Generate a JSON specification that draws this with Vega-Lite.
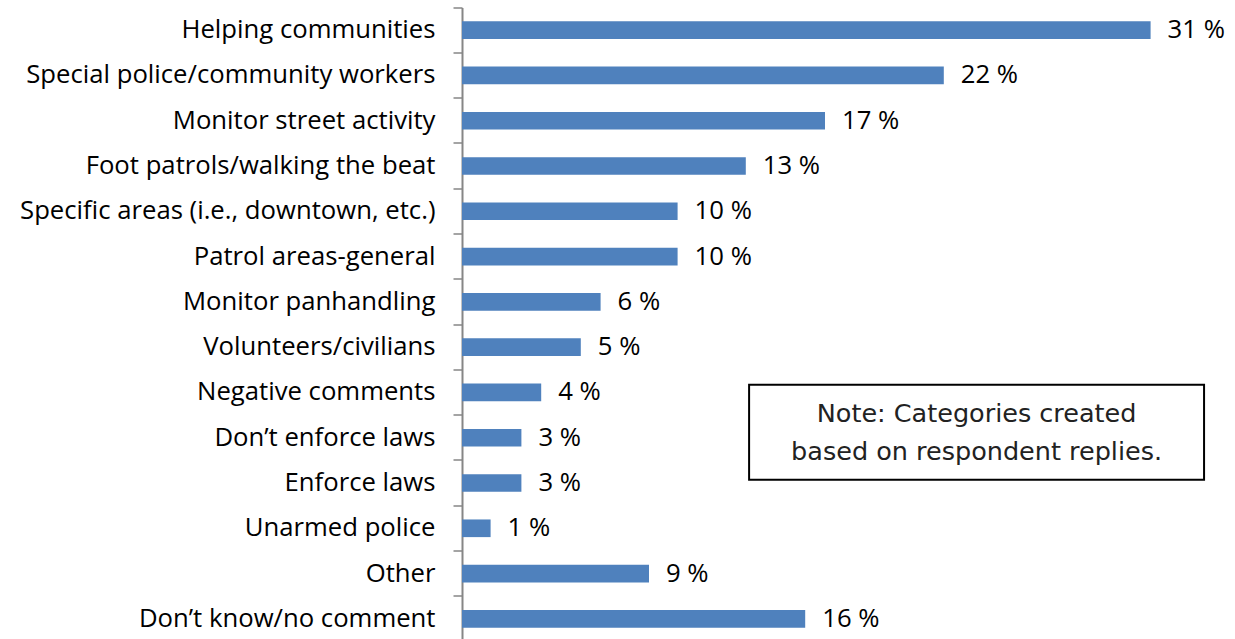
{
  "$schema": "https://vega.github.io/schema/vega-lite/v6.json",
  "width": 770,
  "height": 634,
  "autosize": {"type": "none"},
  "padding": {"left": 462, "top": 7.5, "right": 0, "bottom": 0},
  "background": "white",
  "config": {"view": {"stroke": null}},
  "resolve": {"scale": {"y": "independent"}, "axis": {"y": "independent"}},
  "layer": [
    {
      "data": {
        "values": [
          {"category": "Helping communities", "value": 31.3, "label": "31 %"},
          {"category": "Special police/community workers", "value": 21.9, "label": "22 %"},
          {"category": "Monitor street activity", "value": 16.5, "label": "17 %"},
          {"category": "Foot patrols/walking the beat", "value": 12.9, "label": "13 %"},
          {"category": "Specific areas (i.e., downtown, etc.)", "value": 9.8, "label": "10 %"},
          {"category": "Patrol areas-general", "value": 9.8, "label": "10 %"},
          {"category": "Monitor panhandling", "value": 6.3, "label": "6 %"},
          {"category": "Volunteers/civilians", "value": 5.4, "label": "5 %"},
          {"category": "Negative comments", "value": 3.6, "label": "4 %"},
          {"category": "Don’t enforce laws", "value": 2.7, "label": "3 %"},
          {"category": "Enforce laws", "value": 2.7, "label": "3 %"},
          {"category": "Unarmed police", "value": 1.3, "label": "1 %"},
          {"category": "Other", "value": 8.5, "label": "9 %"},
          {"category": "Don’t know/no comment", "value": 15.6, "label": "16 %"}
        ]
      },
      "encoding": {
        "y": {
          "field": "category",
          "type": "nominal",
          "sort": null,
          "scale": {"paddingInner": 0, "paddingOuter": 0},
          "axis": {
            "title": null,
            "bandPosition": 0,
            "domainColor": "#868686",
            "domainWidth": 2,
            "tickColor": "#868686",
            "tickWidth": 1.5,
            "tickSize": 9,
            "labelPadding": 18,
            "labelFont": "Open Sans",
            "labelFontSize": 25.7,
            "labelColor": "#000000",
            "labelLimit": 0
          }
        },
        "x": {
          "field": "value",
          "type": "quantitative",
          "scale": {"domain": [0, 35], "zero": true, "nice": false},
          "axis": null
        }
      },
      "layer": [
        {"mark": {"type": "bar", "color": "#4F81BD", "height": {"band": 0.39}}},
        {
          "mark": {"type": "text", "align": "left", "baseline": "middle", "dx": 17, "font": "Open Sans", "fontSize": 25.7, "color": "#000000"},
          "encoding": {"text": {"field": "label"}}
        }
      ]
    },
    {
      "data": {"values": [{"note": "Note: Categories created\nbased on respondent replies."}]},
      "layer": [
        {
          "mark": {"type": "rect", "fill": "white", "stroke": "#000000", "strokeWidth": 2},
          "encoding": {
            "x": {"datum": 13.05, "type": "quantitative"},
            "x2": {"datum": 33.73},
            "y": {"datum": 8.33, "type": "quantitative", "scale": {"domain": [0, 14], "reverse": true, "nice": false, "zero": false}, "axis": null},
            "y2": {"datum": 10.43}
          }
        },
        {
          "mark": {"type": "text", "align": "center", "baseline": "middle", "font": "DejaVu Sans", "fontSize": 25.5, "color": "#222222", "lineBreak": "\n", "lineHeight": 38},
          "encoding": {
            "x": {"datum": 23.39, "type": "quantitative"},
            "y": {"datum": 8.97, "type": "quantitative", "scale": {"domain": [0, 14], "reverse": true, "nice": false, "zero": false}, "axis": null},
            "text": {"field": "note"}
          }
        }
      ]
    }
  ]
}
